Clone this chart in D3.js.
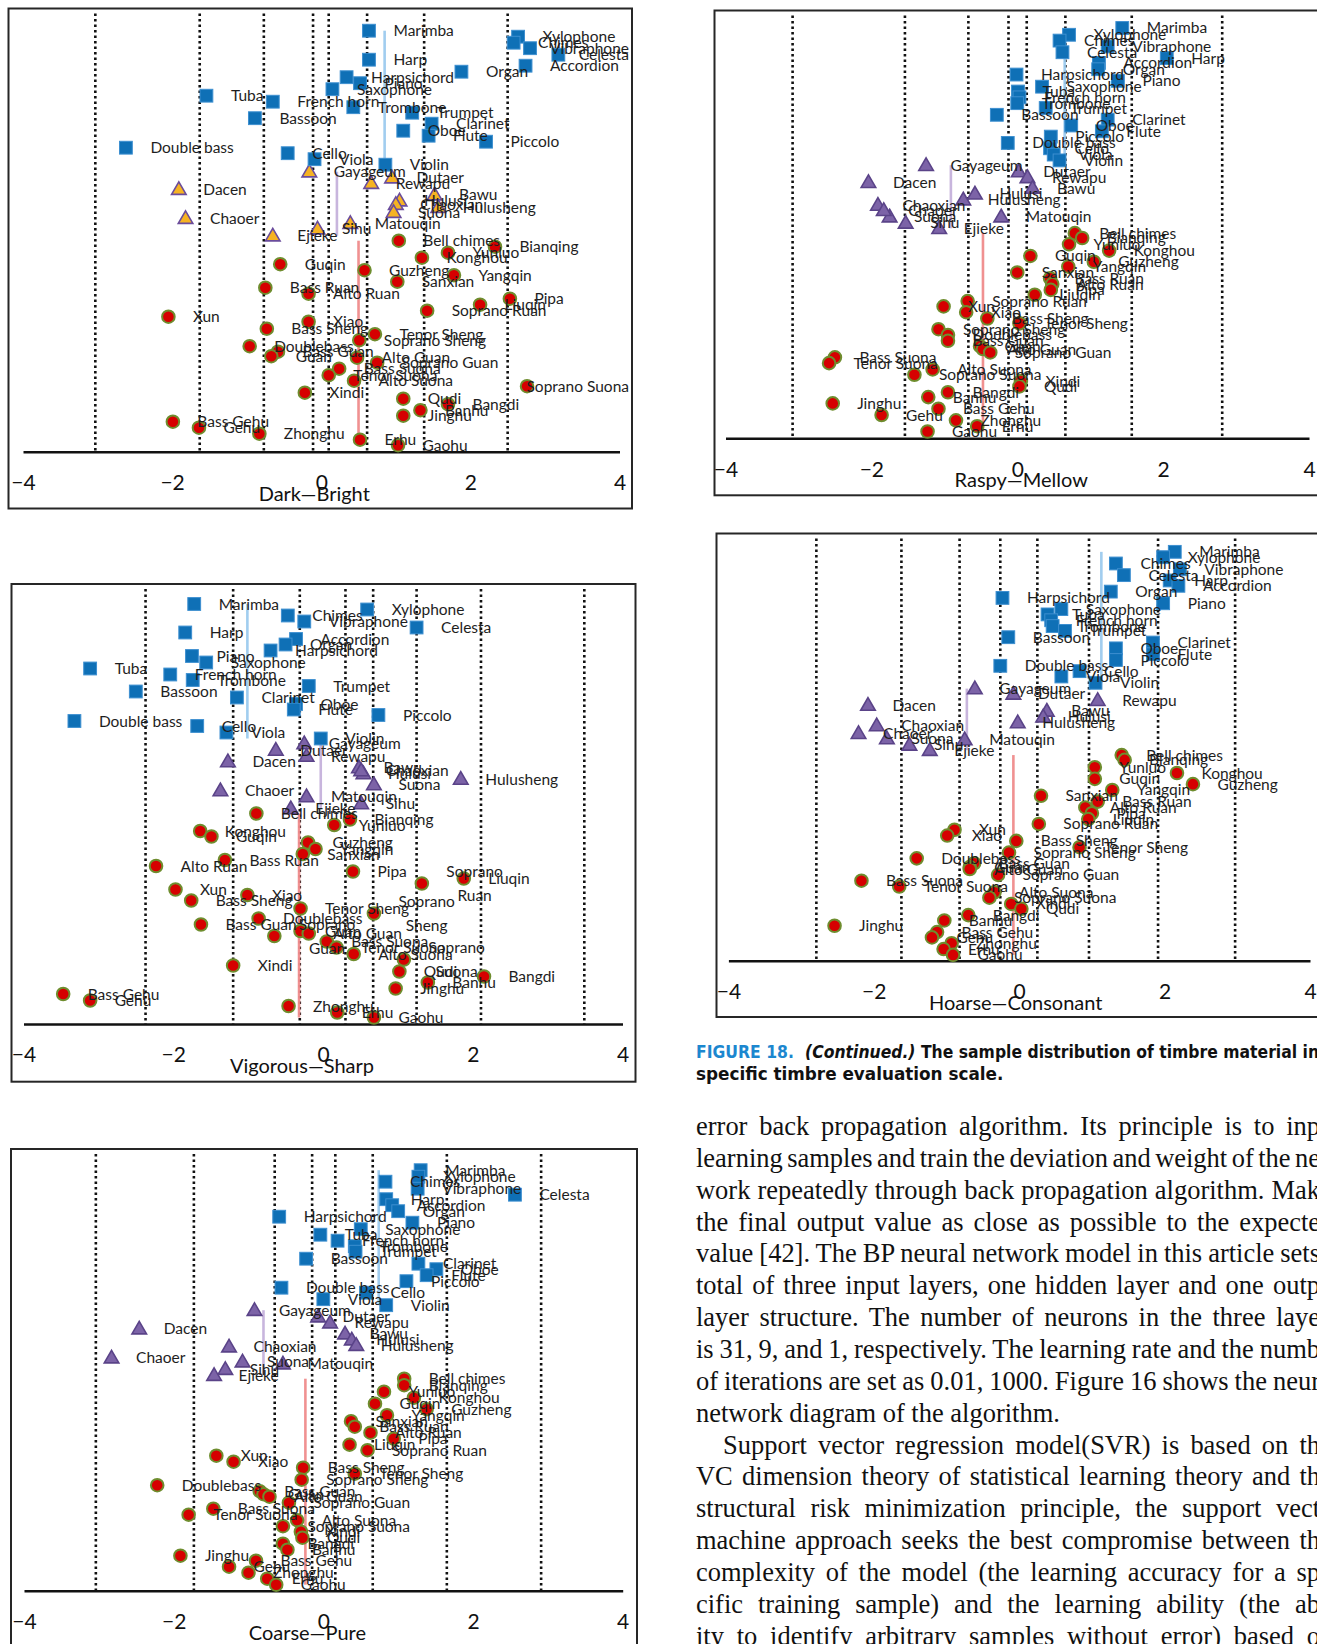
<!DOCTYPE html>
<html><head><meta charset="utf-8">
<script src="https://cdn.jsdelivr.net/npm/d3@7"></script>
<style>body{margin:0;background:#fff}svg{display:block}</style>
</head><body>
<svg id="page" width="1317" height="1644"></svg>
<script>
// ---------- instruments ----------
const squareNames = ["Marimba","Xylophone","Chimes","Vibraphone","Celesta","Harp","Accordion","Organ","Harpsichord","Piano","Saxophone","Tuba","French horn","Trombone","Trumpet","Bassoon","Clarinet","Oboe","Flute","Piccolo","Double bass","Cello","Viola","Violin"];
const triangleNames = ["Gayageum","Dutaer","Rewapu","Dacen","Bawu","Hulusi","Chaoxian","Hulusheng","Suona","Chaoer","Matouqin","Sihu","Ejieke"];
const circleNames = ["Bell chimes","Bianqing","Yunluo","Konghou","Guqin","Guzheng","Yangqin","Sanxian","Bass Ruan","Alto Ruan","Pipa","Liuqin","Soprano Ruan","Xun","Xiao","Bass Sheng","Tenor Sheng","Soprano Sheng","Doublebass","Bass Guan","Guan","Alto Guan","Soprano Guan","Bass Suona","Tenor Suona","Alto Suona","Soprano Suona","Xindi","Qudi","Bangdi","Banhu","Jinghu","Bass Gehu","Gehu","Zhonghu","Erhu","Gaohu"];

// ---------- Dark—Bright ----------
const brightX = [0.64,2.64,2.58,2.80,3.18,0.64,2.74,1.88,0.34,0.52,0.15,-1.54,-0.65,0.43,1.22,-0.89,1.48,1.10,1.44,2.21,-2.62,-0.45,-0.09,0.86,
 -0.16,0.95,0.67,-1.91,1.52,1.05,1.00,1.57,0.97,-1.82,0.39,-0.05,-0.65,
 1.04,2.33,1.70,1.35,-0.55,0.58,1.78,1.02,-0.75,-0.17,2.53,2.13,1.42,-2.05,-0.17,-0.73,0.72,0.51,-0.96,-0.58,-0.67,0.48,0.75,0.24,0.10,0.44,2.76,-0.22,1.10,1.70,1.33,1.10,-1.99,-1.64,-0.83,0.52,1.03];
const brightY = [84.2,83.0,81.8,80.7,79.4,78.4,77.2,76.0,74.9,73.7,72.5,71.2,70.0,68.9,67.8,66.7,65.6,64.2,63.2,62.0,60.8,59.7,58.5,57.4,
 56.0,54.8,53.7,52.5,51.4,50.2,49.5,48.9,47.9,46.7,45.7,44.6,43.2,
 42.2,41.0,39.8,38.8,37.5,36.3,35.3,34.0,32.8,31.6,30.6,29.4,28.2,27.0,26.0,24.6,23.5,22.3,21.1,20.0,19.1,18.8,17.8,16.6,15.3,14.2,13.1,11.8,10.6,9.5,8.3,7.2,6.0,4.8,3.6,2.4,1.3];
const brightGrid = [-3.03,-1.63,-0.77,-0.11,0.10,0.615,1.38,2.50];
const brightMeans = [0.85,0.21,0.50];

// ---------- Vigorous—Sharp ----------
const sharpX = [-1.72,0.59,-0.47,-0.25,1.25,-1.84,-0.36,-0.50,-0.70,-1.75,-1.56,-3.11,-2.04,-1.74,-0.19,-2.50,-1.15,-0.36,-0.39,0.74,-3.32,-1.68,-1.29,-0.03,
 -0.25,-0.63,-0.22,-1.27,0.48,0.54,0.51,1.84,0.68,-1.37,-0.22,0.51,-0.43,
 -0.89,0.36,0.15,-1.64,-1.49,-0.20,-0.10,-0.27,-1.31,-2.23,0.40,1.88,1.32,-1.97,-1.01,-1.76,-0.30,0.68,-0.86,-1.63,-0.30,-0.19,-0.65,0.05,0.18,0.41,1.08,-1.20,1.02,2.15,1.40,0.97,-3.47,-3.11,-0.46,0.19,0.68];
const sharpY = [84.0,82.9,81.7,80.5,79.3,78.3,77.0,75.9,74.7,73.6,72.3,71.1,69.9,68.8,67.6,66.5,65.3,64.0,62.9,61.8,60.6,59.6,58.3,57.1,
 56.1,54.8,53.6,52.5,51.3,50.1,50.7,49.0,47.9,46.7,45.5,44.1,43.1,
 42.1,40.9,39.8,38.6,37.5,36.3,35.0,34.0,32.8,31.6,30.5,29.1,28.1,26.9,25.8,24.7,23.1,22.1,21.1,19.9,18.6,18.1,17.6,16.5,15.3,14.0,12.9,11.7,10.5,9.5,8.3,7.1,6.0,4.7,3.6,2.3,1.3];
const sharpGrid = [-2.37,-1.20,-0.31,0.30,0.67,1.25,2.11,3.49];
const sharpMeans = [-1.01,-0.03,-0.32];

// ---------- Coarse—Pure ----------
const pureX = [1.30,1.27,0.83,1.26,2.56,0.84,0.92,1.00,-0.59,1.19,0.50,-0.04,0.19,0.42,0.43,-0.23,1.27,1.51,1.38,1.11,-0.56,0.57,0.00,0.84,
 -0.92,-0.07,0.09,-2.46,0.29,0.38,-1.26,0.44,-1.08,-2.83,-0.54,-1.31,-1.46,
 1.08,1.08,0.81,1.21,0.69,1.38,0.85,0.37,0.42,0.63,0.94,0.35,0.59,-1.43,-1.20,-0.27,0.42,-0.29,-2.22,-0.85,-0.80,-0.72,-0.46,-1.47,-1.80,-0.35,-0.54,-0.30,-0.28,-0.54,-0.48,-1.91,-0.90,-1.26,-1.00,-0.75,-0.63];
const pureY = [84.1,82.8,81.8,80.4,79.2,78.3,77.1,75.9,74.8,73.6,72.3,71.2,70.0,68.9,67.8,66.4,65.4,64.3,63.1,61.9,60.6,59.6,58.3,57.1,
 56.1,54.8,53.6,52.4,51.4,50.2,48.8,49.1,45.8,46.6,45.4,44.3,43.1,
 42.4,41.1,39.8,38.6,37.4,36.3,35.1,33.9,32.8,31.6,30.4,29.2,28.1,27.0,25.8,24.6,23.4,22.2,21.1,19.9,19.3,18.8,17.6,16.4,15.2,14.1,12.9,11.8,10.6,9.4,8.2,7.0,6.0,4.8,3.6,2.4,1.2];
const pureGrid = [-3.04,-1.73,-0.65,-0.15,0.16,0.66,1.65,2.91];
const pureMeans = [0.74,-0.80,-0.24];

// ---------- Raspy—Mellow ----------
const mellowX = [1.44,0.71,0.58,1.24,0.62,2.05,1.12,1.11,-0.01,1.38,0.34,0.01,0.03,0.00,0.39,-0.28,1.24,0.74,1.16,0.46,-0.13,0.45,0.50,0.58,
 -1.25,0.02,0.14,-2.04,0.21,-0.58,-1.91,-0.74,-1.75,-1.83,-0.22,-1.53,-1.07,
 0.79,0.89,0.71,1.26,0.18,1.05,0.70,0.00,0.45,0.48,0.46,0.24,-0.68,-1.01,-0.70,-0.41,0.03,-1.08,-0.95,-0.95,-0.51,-0.47,-0.37,-2.50,-2.58,-1.16,-1.41,0.05,0.03,-0.95,-1.22,-2.53,-1.08,-1.86,-0.84,-0.55,-1.23];
const mellowY = [84.6,83.2,82.0,80.8,79.6,78.4,77.4,76.1,75.0,73.7,72.5,71.5,70.3,69.1,68.1,66.7,65.7,64.5,63.3,62.2,60.9,59.8,58.5,57.3,
 56.3,55.0,53.8,52.8,51.6,50.4,48.1,49.2,45.7,47.0,45.7,44.4,43.3,
 42.3,41.3,40.0,38.7,37.6,36.4,35.4,34.2,33.0,31.8,30.6,29.6,28.3,27.2,26.0,24.7,23.7,22.5,21.3,20.1,19.0,18.4,17.7,16.7,15.5,14.2,13.1,11.8,10.7,9.5,8.5,7.2,6.1,4.8,3.7,2.5,1.4];
const mellowGrid = [-3.08,-1.54,-0.67,-0.12,0.13,0.66,1.57,2.81];
const mellowMeans = [0.65,-0.91,-0.47];

// ---------- Hoarse—Consonant ----------
const consonantX = [2.14,1.98,1.33,2.21,1.44,2.07,2.19,1.26,-0.23,1.98,0.58,0.39,0.44,0.46,0.63,-0.15,1.84,1.33,1.84,1.33,-0.26,0.83,0.58,1.05,
 -0.61,-0.08,1.08,-2.08,0.38,0.33,-1.96,-0.02,-1.82,-2.21,-0.75,-1.51,-1.23,
 1.41,1.45,1.04,2.17,1.04,2.39,1.28,0.30,1.08,0.91,1.00,0.95,0.27,-0.89,-0.99,-0.04,0.83,-0.14,-1.41,-0.62,-0.68,-0.68,-0.29,-2.17,-1.65,-0.34,-0.41,-0.11,0.03,-0.70,-1.03,-2.54,-1.13,-1.20,-0.93,-1.04,-0.91];
const consonantY = [84.3,83.2,81.9,80.7,79.5,78.4,77.3,76.1,74.8,73.7,72.5,71.4,70.2,69.0,68.0,66.7,65.6,64.4,63.2,62.0,60.8,59.7,58.6,57.3,
 56.1,55.0,53.7,52.7,51.5,50.3,48.5,49.1,45.8,46.9,45.6,44.5,43.4,
 42.4,41.4,39.9,38.7,37.5,36.4,35.2,34.0,32.8,31.6,30.4,29.2,28.2,27.0,25.8,24.7,23.4,22.3,21.1,20.1,19.3,18.9,17.7,16.5,15.3,14.1,13.0,11.7,10.7,9.4,8.3,7.2,5.9,4.8,3.6,2.4,1.2];
const consonantGrid = [-2.79,-1.62,-0.82,-0.26,0.25,0.96,1.91,2.97];
const consonantMeans = [1.13,-0.72,-0.08];

const tickValues = [-4,-2,0,2,4];

// ---------- text ----------
const captionLine1 = ["FIGURE 18.", "(Continued.)", " The sample distribution of timbre material in t"];
const captionLine2 = "specific timbre evaluation scale.";
const bodyLines = [
 ["error back propagation algorithm. Its principle is to inp",0,1],
 ["learning samples and train the deviation and weight of the ne",0,1],
 ["work repeatedly through back propagation algorithm. Mak",0,1],
 ["the final output value as close as possible to the expecte",0,1],
 ["value [42]. The BP neural network model in this article sets",0,1],
 ["total of three input layers, one hidden layer and one outp",0,1],
 ["layer structure. The number of neurons in the three laye",0,1],
 ["is 31, 9, and 1, respectively. The learning rate and the numb",0,1],
 ["of iterations are set as 0.01, 1000. Figure 16 shows the neur",0,1],
 ["network diagram of the algorithm.",0,0],
 ["Support vector regression model(SVR) is based on th",1,1],
 ["VC dimension theory of statistical learning theory and th",0,1],
 ["structural risk minimization principle, the support vect",0,1],
 ["machine approach seeks the best compromise between th",0,1],
 ["complexity of the model (the learning accuracy for a sp",0,1],
 ["cific training sample) and the learning ability (the ab",0,1],
 ["ity to identify arbitrary samples without error) based o",0,1]
];

// ---------- layout ----------
const names = squareNames.concat(triangleNames, circleNames);
const nS = squareNames.length, nT = triangleNames.length;
const groupOf = i => i < nS ? 0 : (i < nS + nT ? 1 : 2);

const panels = [
 {xs:brightX, ys:brightY, grid:brightGrid, means:brightMeans, title:"Dark—Bright", box:[8.5,8.5,632,508.5], axisY:451.7, xL:23, xR:619.5, yUnit:5, titleDx:-7, triFill:"#f6b322", triStroke:"#6a4c9c", clamp:true, wrap:false},
 {xs:sharpX, ys:sharpY, grid:sharpGrid, means:sharpMeans, title:"Vigorous—Sharp", box:[11.5,584,635.5,1081.7], axisY:1024, xL:23.5, xR:622.5, yUnit:5, titleDx:-21, triFill:"#7c63a7", triStroke:"#5a4388", clamp:true, wrap:true},
 {xs:pureX, ys:pureY, grid:pureGrid, means:pureMeans, title:"Coarse—Pure", box:[11,1149,637,1720], axisY:1590.7, xL:24, xR:622.7, yUnit:5, titleDx:-16, triFill:"#7c63a7", triStroke:"#5a4388", clamp:true, wrap:false},
 {xs:mellowX, ys:mellowY, grid:mellowGrid, means:mellowMeans, title:"Raspy—Mellow", box:[714.5,10.5,1345,495.3], axisY:438.3, xL:725.5, xR:1309, yUnit:4.85, titleDx:4, triFill:"#7c63a7", triStroke:"#5a4388", clamp:false, wrap:false},
 {xs:consonantX, ys:consonantY, grid:consonantGrid, means:consonantMeans, title:"Hoarse—Consonant", box:[716.5,533.5,1345,1017], axisY:960.7, xL:728.4, xR:1310, yUnit:4.85, titleDx:-3.5, triFill:"#7c63a7", triStroke:"#5a4388", clamp:false, wrap:false}
];

const svg = d3.select("#page");
svg.append("rect").attr("width",1317).attr("height",1644).attr("fill","#fff");
const meanColors = ["#9ccbef","#c6b2dc","#f08c8c"];
const LABEL_FONT = "Lato, 'Open Sans', sans-serif";

function drawPanel(cfg){
  const g = svg.append("g");
  const x = d3.scaleLinear().domain([-4,4]).range([cfg.xL, cfg.xR]);
  const y = d3.scaleLinear().domain([0,88]).range([cfg.axisY, cfg.axisY - 88*cfg.yUnit]);
  const [bx0,by0,bx1,by1] = cfg.box;

  g.append("rect").attr("x",bx0).attr("y",by0).attr("width",bx1-bx0).attr("height",by1-by0)
    .attr("fill","none").attr("stroke","#262626").attr("stroke-width",2);

  g.selectAll("line.grid").data(cfg.grid).join("line").attr("class","grid")
    .attr("x1",d=>x(d)).attr("x2",d=>x(d)).attr("y1",by0+5).attr("y2",cfg.axisY)
    .attr("stroke","#111").attr("stroke-width",2.6).attr("stroke-dasharray","2.6,2.9");

  const pts = names.map((n,i)=>({name:n, grp:groupOf(i), x:cfg.xs[i], y:cfg.ys[i]}));

  cfg.means.forEach((m,gi)=>{
    const ys = pts.filter(p=>p.grp===gi).map(p=>p.y);
    g.append("line").attr("x1",x(m)).attr("x2",x(m))
      .attr("y1",y(d3.max(ys))).attr("y2",y(d3.min(ys)))
      .attr("stroke",meanColors[gi]).attr("stroke-width",2.6).attr("opacity",0.95);
  });

  const axis = d3.axisBottom(x).tickValues(tickValues).tickSize(0).tickSizeOuter(0).tickPadding(23.5).tickFormat(d3.format("d"));
  const ag = g.append("g").attr("transform",`translate(0,${cfg.axisY})`).call(axis);
  ag.select(".domain").attr("stroke","#111").attr("stroke-width",2.4);
  ag.selectAll("text").attr("fill","#111").style("font-family",LABEL_FONT).style("font-size","21px");

  g.append("text").attr("x",x(0)+cfg.titleDx).attr("y",cfg.axisY+49).attr("text-anchor","middle")
    .style("font-family",LABEL_FONT).style("font-size","20px").attr("fill","#111").text(cfg.title);

  // markers
  const sq = pts.filter(p=>p.grp===0), tr = pts.filter(p=>p.grp===1), ci = pts.filter(p=>p.grp===2);
  const tri = d3.symbol().type(d3.symbolTriangle).size(92);
  g.selectAll("circle.c").data(ci).join("circle").attr("class","c")
    .attr("cx",d=>x(d.x)).attr("cy",d=>y(d.y)).attr("r",6.3)
    .attr("fill","#d60000").attr("stroke","#6e8d2e").attr("stroke-width",2);
  g.selectAll("path.t").data(tr).join("path").attr("class","t")
    .attr("transform",d=>`translate(${x(d.x)},${y(d.y)+1})`).attr("d",tri)
    .attr("fill",cfg.triFill).attr("stroke",cfg.triStroke).attr("stroke-width",1.6);
  g.selectAll("rect.s").data(sq).join("rect").attr("class","s")
    .attr("x",d=>x(d.x)-6.4).attr("y",d=>y(d.y)-6.4).attr("width",12.8).attr("height",12.8)
    .attr("fill","#0f70b6").attr("stroke","#3d8fd0").attr("stroke-width",1);

  // labels
  const lab = g.selectAll("text.lab").data(pts).join("text").attr("class","lab")
    .attr("x",d=>x(d.x)+24.5).attr("y",d=>y(d.y)+5.5)
    .style("font-family",LABEL_FONT).style("font-size","15.5px").attr("fill","#1e1e1e");
  lab.each(function(d){
    const t = d3.select(this);
    const wrapIt = cfg.wrap && d.name.startsWith("Soprano ");
    if(!wrapIt){ t.text(d.name); return; }
    const parts = d.name.split(" ");
    t.text(parts[0]);
    const w0 = this.getComputedTextLength();
    t.text(null);
    const cx = x(d.x)+24.5 + w0/2;
    t.attr("text-anchor","middle");
    t.append("tspan").attr("x",cx).attr("y",y(d.y)+5.5-12).text(parts[0]);
    t.append("tspan").attr("x",cx).attr("y",y(d.y)+5.5+12).text(parts[1]);
  });
  if(cfg.clamp){
    lab.each(function(d){
      if(cfg.wrap && d.name.startsWith("Soprano ")) return;
      const w = this.getComputedTextLength();
      const xx = x(d.x)+24.5;
      if(xx + w > bx1 - 3) d3.select(this).attr("x", bx1 - 3 - w);
    });
  }
}
panels.forEach(drawPanel);

// ---------- caption ----------
const CAP_FONT = "'Liberation Sans Narrow','Arial Narrow','DejaVu Sans Condensed','Liberation Sans',sans-serif";
function capText(yy, target, build){
  const t = svg.append("text").attr("x",0).attr("y",0)
    .style("font-family",CAP_FONT).style("font-weight","bold").style("font-size","18.5px").attr("fill","#111");
  build(t);
  const w = t.node().getComputedTextLength();
  t.attr("transform",`translate(696,${yy}) scale(${target/w},1)`);
}
capText(1058, 625, t=>{
  t.append("tspan").attr("fill","#1c87cf").text(captionLine1[0]);
  t.append("tspan").attr("dx",12).style("font-style","italic").text(captionLine1[1]);
  t.append("tspan").text(captionLine1[2]);
});
capText(1080, 307.5, t=>t.text(captionLine2));

// ---------- body text ----------
const BODY_FONT = "'Liberation Serif','Times New Roman',serif";
const probe2 = svg.append("text").style("font-family",BODY_FONT).style("font-size","20px").text(bodyLines[9][0]);
const bodySize = 20*364/probe2.node().getComputedTextLength();
probe2.remove();
bodyLines.forEach((l,i)=>{
  const x0 = 696 + (l[1] ? 27 : 0);
  const t = svg.append("text").attr("x",x0).attr("y",1135+31.85*i)
    .style("font-family",BODY_FONT).style("font-size",bodySize+"px").attr("fill","#111").text(l[0]);
  if(l[2]){
    const w = t.node().getComputedTextLength();
    const spaces = (l[0].match(/ /g)||[]).length;
    const ws = (1320 - x0 - w)/spaces;
    t.style("word-spacing", ws+"px");
  }
});
</script>
</body></html>
